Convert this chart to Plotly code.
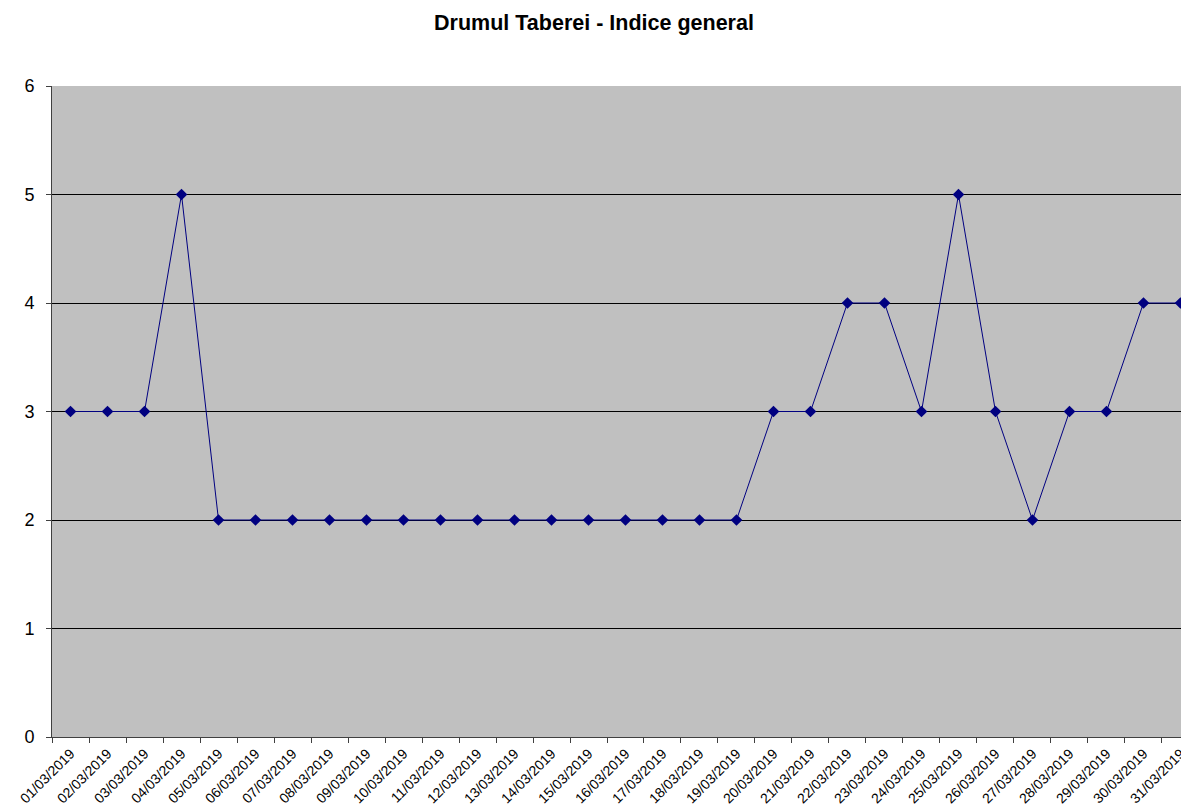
import plotly.graph_objects as go

dates = [f"{d:02d}/03/2019" for d in range(1, 32)]
values = [3, 3, 3, 5, 2, 2, 2, 2, 2, 2, 2, 2, 2, 2, 2, 2, 2, 2, 2,
          3, 3, 4, 4, 3, 5, 3, 2, 3, 3, 4, 4]
y_ticks = [0, 1, 2, 3, 4, 5, 6]

# The page body adds an 8px margin, so the figure is sized/offset to compensate.
W, H = 1181, 804

fig = go.Figure()
fig.add_trace(go.Scatter(
    x=dates, y=values, mode="lines+markers",
    line=dict(color="#000080", width=1),
    marker=dict(symbol="diamond", size=9, color="#000080"),
    showlegend=False, cliponaxis=False,
))

fig.update_layout(
    width=W, height=H,
    paper_bgcolor="white", plot_bgcolor="#C0C0C0",
    margin=dict(l=44, r=0, t=78, b=75),
    font=dict(family="Liberation Sans, Arial, sans-serif", color="black"),
    title=dict(text="<b>Drumul Taberei - Indice general</b>", x=586 / W, xanchor="center",
               xref="container", y=1 - 14 / H, yanchor="middle", font=dict(size=21.5)),
)
fig.update_xaxes(
    type="category", range=[-0.5, 30.23], automargin=False,
    tickson="boundaries", ticks="outside", ticklen=5, tickcolor="#404040",
    tickangle=-45, tickfont=dict(size=14), ticklabelstandoff=2,
    showgrid=False, showline=True, linecolor="#404040", linewidth=1,
)
fig.update_yaxes(
    range=[0, 6], tickvals=y_ticks, ticks="outside", ticklen=5, tickcolor="#404040",
    tickfont=dict(size=18), ticklabelstandoff=8, automargin=False,
    showgrid=True, gridcolor="#000000", gridwidth=1,
    showline=True, linecolor="#404040", linewidth=1, zeroline=False,
)
fig.write_html("out.html")
